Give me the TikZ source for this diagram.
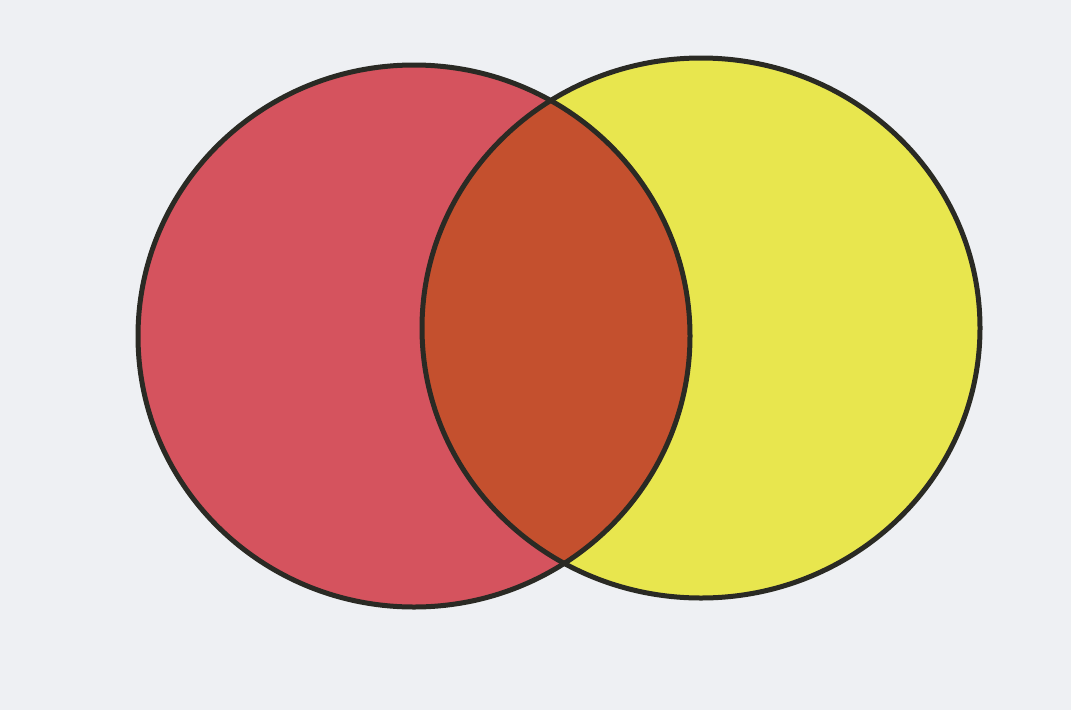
\documentclass[tikz,border=0pt]{standalone}
\definecolor{bg}{HTML}{EEF0F3}
\definecolor{redc}{HTML}{D5535E}
\definecolor{yelc}{HTML}{E8E64E}
\definecolor{midc}{HTML}{C4502E}
\definecolor{linec}{HTML}{2A2A24}
\begin{document}
\begin{tikzpicture}[x=1pt,y=-1pt,outline/.style={draw=linec,line width=5pt}]
\fill[bg] (0,0) rectangle (1071,710);
\useasboundingbox (0,0) rectangle (1071,710);
\fill[redc] (414,336) ellipse [x radius=276, y radius=271];
\fill[yelc] (701,328) ellipse [x radius=279, y radius=270];
\begin{scope}
\clip (414,336) ellipse [x radius=276, y radius=271];
\fill[midc] (701,328) ellipse [x radius=279, y radius=270];
\end{scope}
\draw[outline] (414,336) ellipse [x radius=276, y radius=271];
\draw[outline] (701,328) ellipse [x radius=279, y radius=270];
\end{tikzpicture}
\end{document}
